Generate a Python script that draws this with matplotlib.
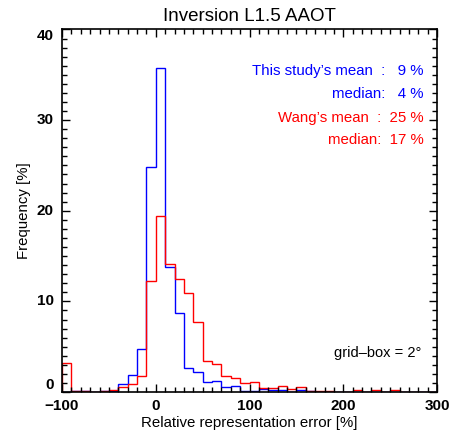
"""
plot.py — relative representation error histograms (Inversion L1.5 AAOT).
"""
import matplotlib
matplotlib.use("Agg")
import matplotlib.pyplot as plt
import numpy as np
from matplotlib.ticker import MultipleLocator

plt.rcParams["font.family"] = ["Liberation Sans", "DejaVu Sans"]

# bins of 10 % from -100 to 300
edges = np.arange(-100, 301, 10)

# frequency [%] per bin
this_study = [0.0, 0.15, 0.07, 0.0, 0.07, 0.15, 0.85, 1.85, 4.7, 24.8,
              35.7, 13.75, 8.7, 2.7, 2.25, 1.15, 1.25, 0.5, 0.66, 0.1,
              0.1, 0.3, 0.25, 0.2, 0.05, 0.2, 0.15, 0.05, 0.05, 0.03,
              0.02, 0.04, 0.02, 0.04, 0.02, 0.03, 0.0, 0.0, 0.0, 0.0]
wang = [3.2, 0.1, 0.07, 0.02, 0.1, 0.2, 0.6, 0.9, 1.8, 12.2,
        19.4, 14.15, 12.5, 10.9, 7.75, 3.4, 3.05, 1.76, 1.6, 0.95,
        1.07, 0.4, 0.4, 0.7, 0.3, 0.6, 0.15, 0.1, 0.1, 0.05,
        0.02, 0.22, 0.03, 0.22, 0.05, 0.22, 0.03, 0.03, 0.03, 0.03]

yticks = [0, 10, 20, 30, 40]

stats_lines = [
    ("This study\u2019s mean  :   9 %", "blue"),
    ("median:   4 %", "blue"),
    ("Wang\u2019s mean  :  25 %", "red"),
    ("median:  17 %", "red"),
]

fig = plt.figure(figsize=(4.54, 4.36), dpi=100)
ax = fig.add_axes([62 / 454, 44 / 436, 375 / 454, 362.5 / 436])

ax.stairs(this_study, edges, color="blue", lw=1.0)
ax.stairs(wang, edges, color="red", lw=1.0)

ax.set_xlim(-100, 300)
ax.set_ylim(0, 40)
ax.xaxis.set_major_locator(MultipleLocator(100))
ax.xaxis.set_minor_locator(MultipleLocator(10))
ax.set_yticks(yticks)
ax.yaxis.set_minor_locator(MultipleLocator(1))
ax.tick_params(which="both", direction="in", top=True, right=True,
               width=1.0, labelsize=11)
ax.tick_params(which="major", length=6)
ax.tick_params(which="minor", length=3.5)
ax.tick_params(axis="x", pad=5)
ax.tick_params(axis="y", labelleft=False)
for lab in ax.get_xticklabels():
    lab.set_fontweight("bold")
for sp in ax.spines.values():
    sp.set_linewidth(1.2)

# y labels drawn by hand, IDL-style: 0 sits above the axis, 40 below the top
for v in yticks:
    va = "bottom" if v == yticks[0] else "top" if v == yticks[-1] else "center"
    ax.annotate(str(v), xy=(0, v), xycoords=ax.get_yaxis_transform(),
                xytext=(-6, 0), textcoords="offset points", ha="right", va=va,
                fontsize=11, fontweight="bold")

ax.set_title("Inversion L1.5 AAOT", fontsize=13.5, pad=6)
ax.set_xlabel("Relative representation error [%]", fontsize=10.8, labelpad=2)
ax.set_ylabel("Frequency [%]", fontsize=10.8, labelpad=19)

for (txt, col), yy in zip(stats_lines, [0.886, 0.822, 0.756, 0.695]):
    ax.text(0.965, yy, txt, color=col, fontsize=10.8, ha="right", va="center",
            transform=ax.transAxes)
ax.text(0.959, 0.108, "grid\u2013box = 2\u00b0", fontsize=10.5, ha="right",
        va="center", transform=ax.transAxes)

fig.savefig("out.png", dpi=100)
